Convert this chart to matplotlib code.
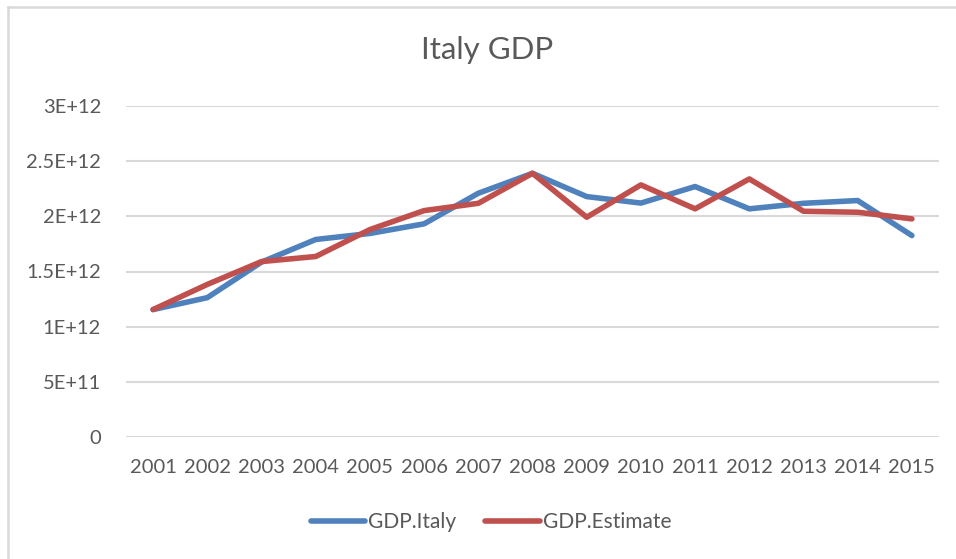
import matplotlib
matplotlib.use("Agg")
import matplotlib.pyplot as plt
from matplotlib.lines import Line2D

years = ["2001", "2002", "2003", "2004", "2005", "2006", "2007", "2008",
         "2009", "2010", "2011", "2012", "2013", "2014", "2015"]
gdp_italy = [1.155e12, 1.263e12, 1.585e12, 1.79e12, 1.845e12, 1.932e12, 2.209e12, 2.39e12,
             2.179e12, 2.12e12, 2.27e12, 2.068e12, 2.118e12, 2.143e12, 1.826e12]
gdp_estimate = [1.155e12, 1.383e12, 1.59e12, 1.636e12, 1.88e12, 2.052e12, 2.118e12, 2.39e12,
                1.992e12, 2.285e12, 2.068e12, 2.339e12, 2.046e12, 2.037e12, 1.977e12]
yticks = [0, 5e11, 1e12, 1.5e12, 2e12, 2.5e12, 3e12]
ytick_labels = ["0", "5E+11", "1E+12", "1.5E+12", "2E+12", "2.5E+12", "3E+12"]
series_names = ["GDP.Italy", "GDP.Estimate"]

plt.rcParams['font.family'] = ['Lato', 'DejaVu Sans']
W, H = 956, 559
fig = plt.figure(figsize=(W / 100, H / 100), dpi=100)
ax = fig.add_axes([126 / W, 1 - 437 / H, (939 - 126) / W, (437 - 106) / H])

blue = "#4F81BD"
red = "#C0504D"
grid = "#D9D9D9"
txt = "#595959"

x = list(range(len(years)))
ax.plot(x, gdp_italy, color=blue, lw=4.0, solid_capstyle="round", solid_joinstyle="round", zorder=3)
ax.plot(x, gdp_estimate, color=red, lw=4.0, solid_capstyle="round", solid_joinstyle="round", zorder=4)

ax.set_xlim(-0.5, len(years) - 0.5)
ax.set_ylim(0, 3e12)
ax.set_yticks(yticks)
ax.set_yticklabels(ytick_labels)
ax.set_xticks(x)
ax.set_xticklabels(years)
ax.grid(axis="y", color=grid, lw=1.5)
ax.set_axisbelow(True)
for s in ["top", "right", "left", "bottom"]:
    ax.spines[s].set_visible(False)
ax.tick_params(axis="both", length=0, colors=txt, labelsize=14.5)
ax.tick_params(axis="y", pad=18)
ax.tick_params(axis="x", pad=16)

fig.text(487 / W, 1 - 50 / H, "Italy GDP", ha="center", va="center", fontsize=22.5, color=txt)

handles = [Line2D([], [], color=blue, lw=4.0, solid_capstyle="round"),
           Line2D([], [], color=red, lw=4.0, solid_capstyle="round")]
leg = fig.legend(handles, series_names, loc="center", bbox_to_anchor=(491 / W, 1 - 522 / H),
                 ncol=2, frameon=False, fontsize=15, handlelength=2.6, handletextpad=0.15,
                 columnspacing=1.4)
for t in leg.get_texts():
    t.set_color(txt)

# chart border (top and left visible)
fig.add_artist(Line2D([8 / W, 1], [1 - 7 / H, 1 - 7 / H], color=grid, lw=1.8, transform=fig.transFigure))
fig.add_artist(Line2D([8 / W, 8 / W], [0, 1 - 7 / H], color=grid, lw=1.8, transform=fig.transFigure))

fig.savefig("out.png", dpi=100, facecolor="white")
